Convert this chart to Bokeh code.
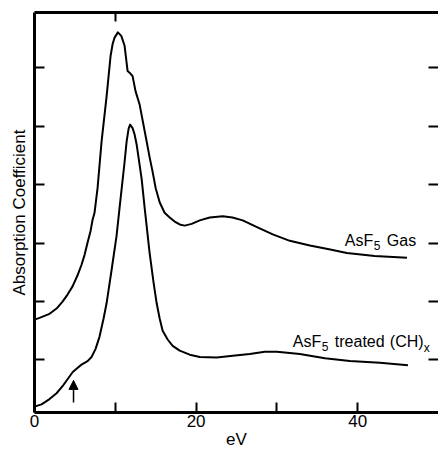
from bokeh.plotting import figure
from bokeh.models import Range1d, FixedTicker, LinearAxis, Label, Arrow, NormalHead
from bokeh.embed import file_html
from bokeh.resources import INLINE

# energy (eV) and absorption coefficient (arbitrary units)
gas_ev = [0.0, 0.62, 1.86, 2.73, 3.47, 4.09, 4.71, 5.33, 5.82, 6.2, 6.57, 6.94, 7.19, 7.43, 7.81, 8.30, 8.92,
          9.42, 9.67, 9.91, 10.32, 10.74, 11.15, 11.52, 11.77, 12.14, 12.51, 13.0, 13.88, 14.25, 14.62, 15.0,
          15.49, 16.1, 16.73, 17.35, 17.97, 18.59, 19.45, 20.45, 21.69, 23.3, 24.5, 25.77, 27.6, 29.49, 31.6,
          34.08, 36.6, 38.66, 42.1, 46.1]
gas_abs = [1.69, 1.72, 1.79, 1.88, 2.00, 2.12, 2.26, 2.45, 2.63, 2.80, 3.01, 3.21, 3.40, 3.52, 3.95, 4.74, 5.51,
           6.21, 6.41, 6.52, 6.61, 6.55, 6.38, 5.95, 5.92, 5.86, 5.60, 5.38, 4.74, 4.47, 4.22, 3.94,
           3.70, 3.52, 3.44, 3.37, 3.32, 3.30, 3.33, 3.39, 3.44, 3.46, 3.44, 3.39, 3.27, 3.15, 3.04,
           2.96, 2.89, 2.83, 2.78, 2.75]

treated_ev = [0.0, 0.87, 1.86, 2.73, 3.47, 4.09, 4.71, 5.2, 5.82, 6.57, 7.06, 7.56, 8.05, 8.55, 8.92, 9.54,
              10.16, 10.53, 11.15, 11.4, 11.65, 11.83, 12.14, 12.39, 12.64, 13.26, 13.63, 14.25, 14.75, 15.12,
              15.49, 15.86, 16.48, 17.1, 17.97, 19.21, 20.45, 22.55, 24.54, 26.64, 28.5, 29.99, 31.6, 32.84,
              35.94, 39.03, 42.75, 46.22]
treated_abs = [0.20, 0.24, 0.33, 0.43, 0.55, 0.67, 0.79, 0.85, 0.92, 0.98, 1.05, 1.19, 1.40, 1.71, 1.97, 2.54,
               3.13, 3.61, 4.39, 4.74, 4.96, 5.03, 4.97, 4.86, 4.69, 4.10, 3.61, 2.83, 2.31, 1.97,
               1.71, 1.50, 1.35, 1.24, 1.16, 1.09, 1.05, 1.04, 1.07, 1.10, 1.14, 1.14, 1.12, 1.10,
               1.03, 0.98, 0.95, 0.91]

x_ticks = [0, 10, 20, 30, 40]
x_tick_labels = {0: "0", 10: "", 20: "20", 30: "", 40: "40"}
y_ticks = [1, 2, 3, 4, 5, 6]
y_tick_labels = {t: "" for t in y_ticks}

FONT = "Liberation Sans"

p = figure(width=438, height=451, output_backend="svg", toolbar_location=None,
           x_range=Range1d(0, 50), y_range=Range1d(0.1, 6.95),
           min_border_left=34, min_border_right=0, min_border_top=12, min_border_bottom=0)
p.outline_line_color = None
p.grid.visible = False
p.background_fill_color = "white"
p.border_fill_color = "white"

# bottom axis
xa = p.xaxis[0]
xa.ticker = FixedTicker(ticks=x_ticks)
xa.major_label_overrides = x_tick_labels
xa.major_tick_in = 10
xa.major_tick_out = 0
xa.minor_tick_line_color = None
xa.axis_line_width = 3
xa.major_tick_line_width = 2
xa.major_label_text_font = FONT
xa.major_label_text_font_size = "17px"
xa.major_label_text_color = "black"
xa.major_label_standoff = 2
xa.axis_label = "eV"
xa.axis_label_text_font = FONT
xa.axis_label_text_font_size = "17px"
xa.axis_label_text_font_style = "normal"
xa.axis_label_text_color = "black"
xa.axis_label_standoff = 0

# left axis
ya = p.yaxis[0]
ya.ticker = FixedTicker(ticks=y_ticks)
ya.major_label_overrides = y_tick_labels
ya.major_label_standoff = 0
ya.major_tick_in = 10
ya.major_tick_out = 0
ya.minor_tick_line_color = None
ya.axis_line_width = 3
ya.major_tick_line_width = 2
ya.axis_label = "Absorption Coefficient"
ya.axis_label_text_font = FONT
ya.axis_label_text_font_size = "17px"
ya.axis_label_text_font_style = "normal"
ya.axis_label_text_color = "black"
ya.axis_label_standoff = 6

# top border with a tick
ta = LinearAxis(ticker=FixedTicker(ticks=[10]), major_label_overrides={10: ""},
                major_tick_in=9, major_tick_out=0, minor_tick_line_color=None,
                axis_line_width=3, major_tick_line_width=2, major_label_standoff=0)
p.add_layout(ta, "above")

# right ticks only
ra = LinearAxis(ticker=FixedTicker(ticks=y_ticks), major_label_overrides=y_tick_labels,
                major_tick_in=10, major_tick_out=0, minor_tick_line_color=None,
                axis_line_color=None, major_tick_line_width=2, major_label_standoff=0)
p.add_layout(ra, "right")

p.line(gas_ev, gas_abs, line_color="black", line_width=2, line_join="round")
p.line(treated_ev, treated_abs, line_color="black", line_width=2, line_join="round")

# arrow marking the shoulder
p.add_layout(Arrow(x_start=4.83, y_start=0.27, x_end=4.83, y_end=0.65,
                   line_color="black", line_width=1.5,
                   end=NormalHead(size=9, fill_color="black", line_color="black")))

def lab(x, y, text, dx=0, dy=0, size="16px"):
    p.add_layout(Label(x=x, y=y, text=text, x_offset=dx, y_offset=dy,
                       text_font=FONT, text_font_size=size, text_color="black",
                       text_baseline="alphabetic", text_align="left"))

# AsF5 Gas
gx, gy = 38.41, 3.04
lab(gx, gy, "AsF")
lab(gx, gy, "5", dx=29, dy=-5, size="12px")
lab(gx, gy, "Gas", dx=42)

# AsF5 treated (CH)x
tx, ty = 31.97, 1.31
lab(tx, ty, "AsF")
lab(tx, ty, "5", dx=29, dy=-5, size="12px")
lab(tx, ty, "treated", dx=42)
lab(tx, ty, "(CH)", dx=97)
lab(tx, ty, "x", dx=131, dy=-6, size="12px")

open("out.html", "w").write(file_html(p, INLINE))
